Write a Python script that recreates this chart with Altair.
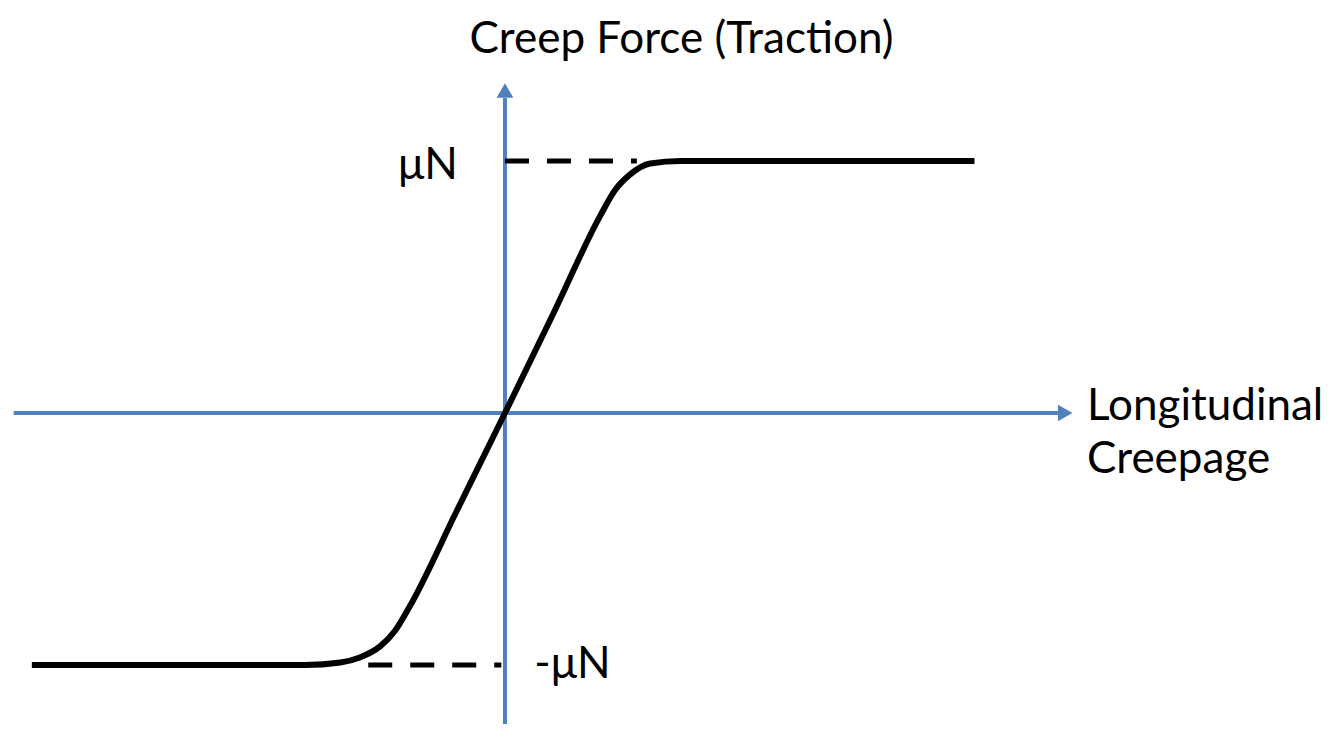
import altair as alt
import pandas as pd

# Creep force curve (x: creepage, y: force in units of muN)
curve_x = [-3.91, -1.65, -1.36, -1.20, -1.03, -0.91, -0.79, -0.40, 0.0, 0.40, 0.79, 0.91, 1.03, 1.20, 1.45, 1.61, 3.88]
curve_y = [-1.0, -1.0, -0.99, -0.97, -0.925, -0.865, -0.77, -0.39, 0.0, 0.395, 0.785, 0.885, 0.945, 0.99, 1.0, 1.0, 1.0]

# saturation levels (+muN / -muN) and dashed guide extents
level_y = [1.0, -1.0]
level_x_start = [0.0, -1.13]
level_x_end = [1.09, -0.03]
level_labels = ["μN", "-μN"]

# axis extents
h_axis = {"x": -4.06, "x2": 4.57, "y": 0.0}
v_axis = {"x": 0.0, "y": -1.234, "y2": 1.25}

XDOM = [-4.107, 6.752]
YDOM = [-1.234, 1.607]
BLUE = "#4F81BD"
FONT = "Lato"
FS = 44

xs = alt.Scale(domain=XDOM, nice=False, zero=False)
ys = alt.Scale(domain=YDOM, nice=False, zero=False)

curve_df = pd.DataFrame({"x": curve_x, "y": curve_y, "order": range(len(curve_x))})
levels_df = pd.DataFrame({"y": level_y, "x": level_x_start, "x2": level_x_end, "label": level_labels})

haxis = alt.Chart(pd.DataFrame([h_axis])).mark_rule(color=BLUE, strokeWidth=4).encode(
    x=alt.X("x:Q", scale=xs, axis=None), x2="x2:Q", y=alt.Y("y:Q", scale=ys, axis=None)
)
vaxis = alt.Chart(pd.DataFrame([v_axis])).mark_rule(color=BLUE, strokeWidth=4).encode(
    x=alt.X("x:Q", scale=xs, axis=None), y=alt.Y("y:Q", scale=ys, axis=None), y2="y2:Q"
)

arrows_df = pd.DataFrame({"x": [4.63, 0.0], "y": [0.0, 1.28], "shape": ["triangle-right", "triangle-up"]})
arrows = alt.Chart(arrows_df).mark_point(filled=True, color=BLUE, opacity=1, size=280, strokeWidth=0).encode(
    x=alt.X("x:Q", scale=xs, axis=None),
    y=alt.Y("y:Q", scale=ys, axis=None),
    shape=alt.Shape("shape:N", scale=None, legend=None),
)

dashes = alt.Chart(levels_df).mark_rule(color="black", strokeWidth=5, strokeDash=[24, 18]).encode(
    x=alt.X("x:Q", scale=xs, axis=None), x2="x2:Q", y=alt.Y("y:Q", scale=ys, axis=None)
)

curve = alt.Chart(curve_df).mark_line(color="black", strokeWidth=6, interpolate="monotone").encode(
    x=alt.X("x:Q", scale=xs, axis=None),
    y=alt.Y("y:Q", scale=ys, axis=None),
    order="order:Q",
)

pos_label = alt.Chart(levels_df[levels_df["y"] > 0]).mark_text(
    font=FONT, fontSize=FS, align="right", baseline="middle", dx=-47, dy=5, color="black"
).encode(x=alt.X("x:Q", scale=xs, axis=None), y=alt.Y("y:Q", scale=ys, axis=None), text="label:N")

neg_label = alt.Chart(levels_df[levels_df["y"] < 0]).mark_text(
    font=FONT, fontSize=FS, align="left", baseline="middle", dx=33, dy=0, color="black"
).encode(x=alt.X("x2:Q", scale=xs, axis=None), y=alt.Y("y:Q", scale=ys, axis=None), text="label:N")

titles_df = pd.DataFrame({
    "x": [1.459, 4.81, 4.81],
    "y": [1.43, -0.028, -0.238],
    "text": ["Creep Force (Traction)", "Longitudinal", "Creepage"],
})
ytitle = alt.Chart(titles_df.iloc[[0]]).mark_text(
    font=FONT, fontSize=FS, align="center", baseline="alphabetic", color="black"
).encode(x=alt.X("x:Q", scale=xs, axis=None), y=alt.Y("y:Q", scale=ys, axis=None), text="text:N")
xtitle = alt.Chart(titles_df.iloc[1:]).mark_text(
    font=FONT, fontSize=FS, align="left", baseline="alphabetic", color="black"
).encode(x=alt.X("x:Q", scale=xs, axis=None), y=alt.Y("y:Q", scale=ys, axis=None), text="text:N")

chart = alt.layer(haxis, vaxis, arrows, dashes, curve, pos_label, neg_label, ytitle, xtitle).properties(
    width=1314, height=716, padding=0, autosize=alt.AutoSizeParams(type="none")
).configure_view(stroke=None)

chart.save("out.html", embed_options={"renderer": "svg", "actions": False})
